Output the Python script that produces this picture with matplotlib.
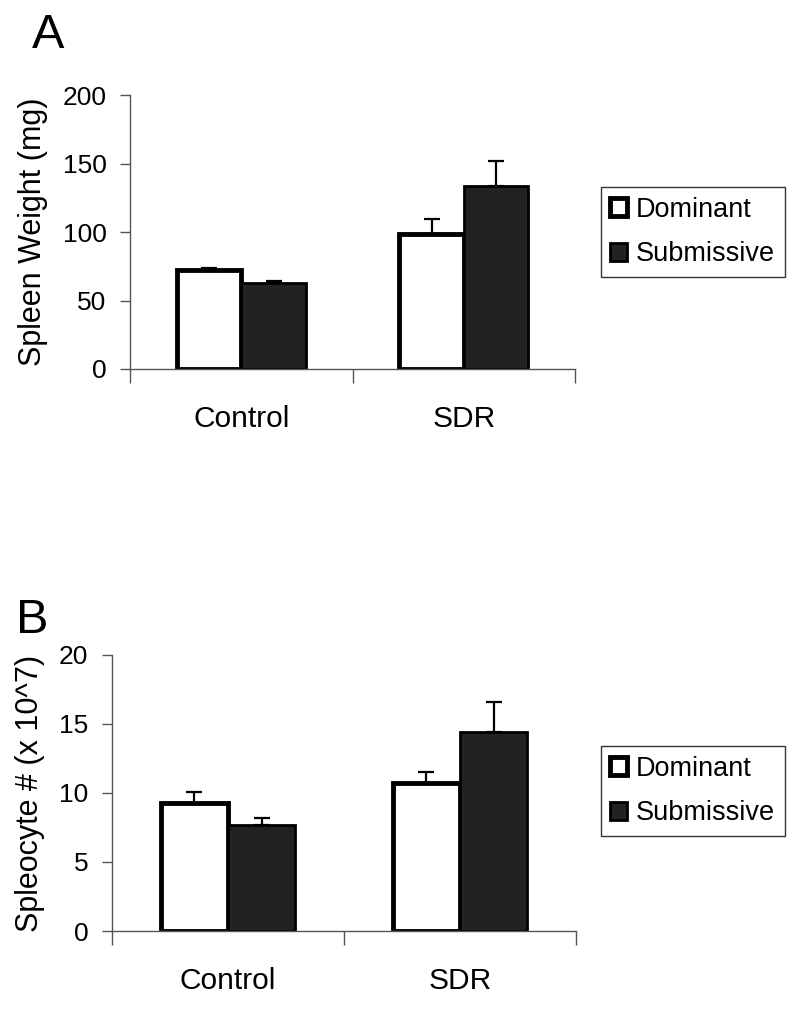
import numpy as np
import matplotlib.pyplot as plt
from matplotlib.patches import Patch

plt.rcParams['font.family'] = ['Liberation Sans', 'DejaVu Sans']

groups = ["Control", "SDR"]
series = ["Dominant", "Submissive"]

# Panel A: spleen weight (mg)
spleen_mean = {"Dominant": [72.5, 98.3], "Submissive": [62.8, 133.9]}
spleen_err = {"Dominant": [1.5, 11.5], "Submissive": [1.7, 17.7]}

# Panel B: spleocyte number (x 10^7)
cells_mean = {"Dominant": [9.3, 10.7], "Submissive": [7.7, 14.4]}
cells_err = {"Dominant": [0.8, 0.8], "Submissive": [0.5, 2.2]}

face = {"Dominant": "white", "Submissive": "#222222"}
edge_lw = {"Dominant": 3.5, "Submissive": 2.0}


def draw_panel(ax, means, errs, ymax, ystep, ylabel, letter, letter_pos, legend_y):
    x = np.arange(len(groups))
    w = 0.29
    for i, s in enumerate(series):
        xs = x + (i - 0.5) * w
        ax.bar(xs, means[s], w, color=face[s], edgecolor="black",
               linewidth=edge_lw[s], zorder=2)
        ax.errorbar(xs, means[s], yerr=[np.zeros(len(groups)), errs[s]],
                    fmt="none", ecolor="black", elinewidth=1.6, capsize=6,
                    capthick=1.6, zorder=1)
    ax.set_xlim(-0.5, 1.5)
    ax.set_ylim(0, ymax)
    ax.set_yticks(np.arange(0, ymax + 1e-9, ystep))
    ax.set_xticks(x)
    ax.set_xticklabels(groups, fontsize=21.5)
    ax.set_xticks([-0.5, 0.5, 1.5], minor=True)
    ax.tick_params(axis="x", which="major", length=0, pad=26)
    ax.tick_params(axis="x", which="minor", length=10, width=1, color="#555555", direction="out")
    ax.tick_params(axis="y", length=7, width=1, color="#555555", labelsize=19, pad=10)
    for sp in ["top", "right"]:
        ax.spines[sp].set_visible(False)
    for sp in ["left", "bottom"]:
        ax.spines[sp].set_color("#555555")
        ax.spines[sp].set_linewidth(1)
    ax.set_ylabel(ylabel, fontsize=22, labelpad=10)
    ax.figure.text(letter_pos[0], letter_pos[1], letter, fontsize=35,
                   ha="center", va="center")
    handles = [Patch(facecolor=face[s], edgecolor="black", linewidth=edge_lw[s])
               for s in series]
    ax.figure.legend(handles, series, loc="center left",
                     bbox_to_anchor=(0.751, legend_y), fontsize=19.5,
                     frameon=True, fancybox=False, edgecolor="black",
                     handlelength=0.6, handleheight=0.6, handletextpad=0.35,
                     borderpad=0.35, labelspacing=0.7, borderaxespad=0)


fig = plt.figure(figsize=(8, 10.09), dpi=100)
axA = fig.add_axes([0.1625, 0.6343, 0.5563, 0.2715])
axB = fig.add_axes([0.14, 0.0773, 0.58, 0.2736])

draw_panel(axA, spleen_mean, spleen_err, 200, 50, "Spleen Weight (mg)", "A",
           (0.06, 0.965), 1 - 232 / 1009)
draw_panel(axB, cells_mean, cells_err, 20, 5, "Spleocyte # (x 10^7)", "B",
           (0.04, 0.385), 1 - 791 / 1009)

fig.savefig("out.png", dpi=100)
